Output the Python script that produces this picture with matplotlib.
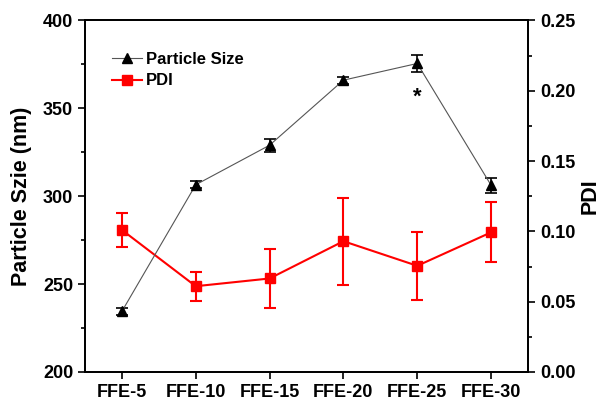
import matplotlib
matplotlib.use("Agg")
import matplotlib.pyplot as plt
from matplotlib.ticker import MultipleLocator
from matplotlib.lines import Line2D

plt.rcParams['font.family'] = ['Liberation Sans', 'DejaVu Sans']
plt.rcParams['font.weight'] = 'bold'

categories = ["FFE-5", "FFE-10", "FFE-15", "FFE-20", "FFE-25", "FFE-30"]
size_vals = [234.5, 306.5, 329, 366, 375.5, 306.2]
size_err = [2.0, 2.0, 3.7, 2.0, 4.8, 4.3]
pdi_vals = [0.101, 0.061, 0.0665, 0.093, 0.0755, 0.0993]
pdi_err = [0.012, 0.0104, 0.0207, 0.031, 0.024, 0.0214]

x = list(range(1, len(categories) + 1))

fig = plt.figure(figsize=(5.99, 4.0), dpi=100)
ax = fig.add_axes([0.1419, 0.07, 0.7396, 0.879])
ax2 = ax.twinx()

# PDI on right axis
ax2.errorbar(x, pdi_vals, yerr=pdi_err, color='#ff0000', marker='s', markersize=7,
             lw=1.5, elinewidth=1.5, capsize=4, capthick=1.5, zorder=2)
ax2.set_ylim(0, 0.25)
ax2.set_yticks([0, 0.05, 0.10, 0.15, 0.20, 0.25])
ax2.yaxis.set_minor_locator(MultipleLocator(0.025))
ax2.set_yticklabels(["0.00", "0.05", "0.10", "0.15", "0.20", "0.25"])
ax2.set_ylabel("PDI", fontsize=15.5, fontweight='bold', labelpad=3)

# Particle size on left axis, drawn on top
ax.set_zorder(ax2.get_zorder() + 1)
ax.patch.set_visible(False)
ax.errorbar(x, size_vals, yerr=size_err, color='#555555', marker='^', markersize=7,
            markerfacecolor='black', markeredgecolor='black', lw=0.8,
            ecolor='black', elinewidth=1.2, capsize=4, capthick=1.2)
ax.set_ylim(200, 400)
ax.yaxis.set_major_locator(MultipleLocator(50))
ax.yaxis.set_minor_locator(MultipleLocator(25))
ax.set_xlim(0.5, 6.5)
ax.set_xticks(x)
ax.set_xticklabels(categories)
ax.set_ylabel("Particle Szie (nm)", fontsize=15.5, fontweight='bold', labelpad=8)

ax.text(5, 356.5, "*", ha='center', va='center', fontsize=16, fontweight='bold')

for a in (ax, ax2):
    a.tick_params(axis='both', which='major', direction='out', length=5, width=1.2,
                  labelsize=13)
    a.tick_params(axis='y', which='minor', direction='out', length=3, width=1.2)
    for s in a.spines.values():
        s.set_linewidth(1.3)
    for lab in a.get_xticklabels() + a.get_yticklabels():
        lab.set_fontweight('bold')

handles = [
    Line2D([], [], color='#555555', lw=0.8, marker='^', markersize=7,
           markerfacecolor='black', markeredgecolor='black'),
    Line2D([], [], color='#ff0000', lw=1.5, marker='s', markersize=7),
]
leg = ax.legend(handles, ["Particle Size", "PDI"], loc='upper left',
                bbox_to_anchor=(0.045, 0.93), frameon=False, fontsize=12,
                handlelength=1.8, handletextpad=0.25, labelspacing=0.4,
                borderaxespad=0)
for t in leg.get_texts():
    t.set_fontweight('bold')

fig.savefig("out.png", dpi=100)
